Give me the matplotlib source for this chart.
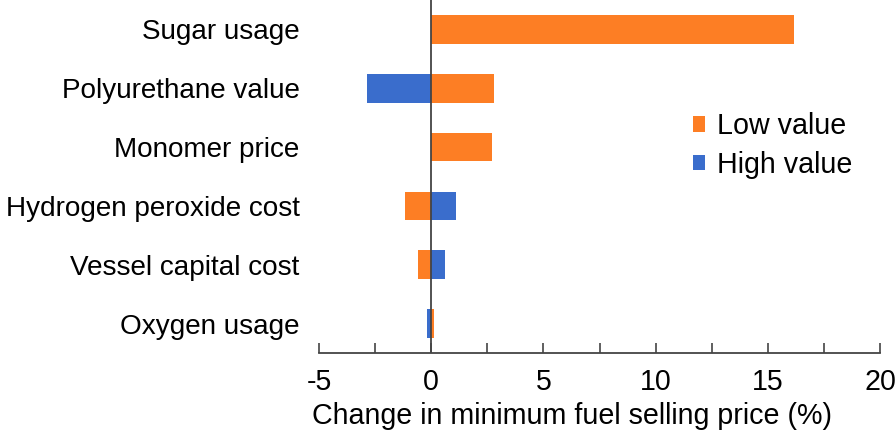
import matplotlib
matplotlib.use('Agg')
import matplotlib.pyplot as plt
import numpy as np
from matplotlib.ticker import MultipleLocator

plt.rcParams['font.family'] = ['Liberation Sans', 'DejaVu Sans']
plt.rcParams['axes.unicode_minus'] = False

# data (% change in MFSP), top to bottom
params = ['Sugar usage', 'Polyurethane value', 'Monomer price',
          'Hydrogen peroxide cost', 'Vessel capital cost', 'Oxygen usage']
low_vals = [16.15, 2.8, 2.7, -1.15, -0.6, 0.13]
high_vals = [0.0, -2.85, 0.0, 1.1, 0.6, -0.17]

orange = '#FD7E24'
blue = '#3A6DCC'
fs = 20.6

fig = plt.figure(figsize=(8.96, 4.36), dpi=100)
ax = fig.add_axes([319/896, (436-353)/436, 561/896, 353/436])

y = np.arange(len(params))
ax.barh(y, high_vals, height=0.49, color=blue, label='High value', zorder=2)
ax.barh(y, low_vals, height=0.49, color=orange, label='Low value', zorder=2)

ax.set_xlim(-5, 20)
ax.set_ylim(len(params) - 0.5, -0.5)
ax.axvline(0, color='#444444', lw=1.3, zorder=3)

ax.set_yticks(y)
ax.set_yticklabels(params, fontsize=20.1)
ax.tick_params(axis='y', length=0, pad=14)
ax.xaxis.set_major_locator(MultipleLocator(5))
ax.xaxis.set_minor_locator(MultipleLocator(2.5))
ax.tick_params(axis='x', which='both', direction='in', length=7, width=1.2,
               color='#444444', labelsize=fs, pad=11)
ax.set_xlabel('Change in minimum fuel selling price (%)', fontsize=fs, labelpad=5)
ax.xaxis.set_label_coords(0.451, -0.14)

for s in ['top', 'right', 'left']:
    ax.spines[s].set_visible(False)
ax.spines['bottom'].set_color('#444444')
ax.spines['bottom'].set_linewidth(1.3)

h, l = ax.get_legend_handles_labels()
ax.legend(h[::-1], l[::-1], loc='upper left', bbox_to_anchor=(0.62, 0.755),
          frameon=False, fontsize=fs, handlelength=0.45, handleheight=0.45,
          handletextpad=0.42, labelspacing=0.36)

fig.savefig('out.png', dpi=100)
